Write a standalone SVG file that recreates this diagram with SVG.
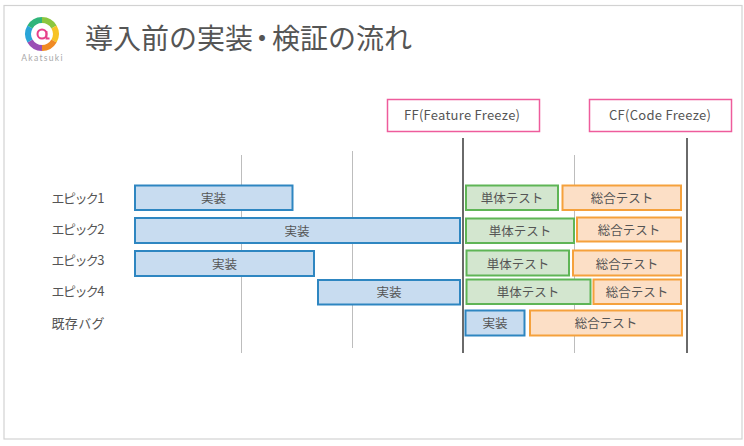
<svg xmlns="http://www.w3.org/2000/svg" width="744" height="446" viewBox="0 0 744 446">
<style>
text{font-family:"Noto Sans CJK JP","Liberation Sans",sans-serif;fill:#555;text-anchor:middle}
.b rect{stroke-width:2}
.impl rect{fill:#c8dcf0;stroke:#2e86c1}
.unit rect{fill:#d3e6cf;stroke:#5fb556}
.sys rect{fill:#fcdfc6;stroke:#f5a13c}
.b text{font-size:12.500px}
.ms text{font-size:13px}
.lab{font-size:13px;text-anchor:start}
.ms rect{fill:#fff;stroke:#ee5c9c;stroke-width:1.500}
.thin{stroke:#bdbdbd;stroke-width:1;fill:none}
.dark{stroke:#6a6a6a;stroke-width:2;fill:none}
</style>
<rect x="4" y="5.500" width="738" height="433.500" fill="#fff" stroke="#d2d2d2" stroke-width="1.200"/>
<g id="logo">
<path d="M42 20A14 14 0 0 1 54 27" fill="none" stroke="#8cc63f" stroke-width="6"/>
<path d="M54 27A14 14 0 0 1 54 41" fill="none" stroke="#f7c325" stroke-width="6"/>
<path d="M54 41A14 14 0 0 1 42 48" fill="none" stroke="#f08a24" stroke-width="6"/>
<path d="M42 48A14 14 0 0 1 30 41" fill="none" stroke="#9b4fb5" stroke-width="6"/>
<path d="M30 41A14 14 0 0 1 30 27" fill="none" stroke="#2aa5d8" stroke-width="6"/>
<path d="M30 27A14 14 0 0 1 42 20" fill="none" stroke="#2fb57a" stroke-width="6"/>
<circle cx="42" cy="34" r="4.500" fill="none" stroke="#e6408a" stroke-width="2"/>
<path d="M46.500 31V38.500H49.500" fill="none" stroke="#e6408a" stroke-width="1.800"/>
<text x="42.500" y="60.500" style="font-family:'Lato','Liberation Sans',sans-serif;font-size:8.500px;letter-spacing:1.300px;fill:#a8a8a8">Akatsuki</text>
</g>
<text id="title" x="85" y="49" dx="0 0 0 0 0 0 -5 -4" style="font-size:28px;text-anchor:start">導入前の実装・検証の流れ</text>
<g id="connectors">
<path class="thin" d="M241.500 155V353M352.500 151V348M574.500 155V353"/>
<path class="dark" d="M463 138V353M687 138V353"/>
</g>
<g id="ff" class="ms"><rect x="387.500" y="99.500" width="152" height="32"/><text x="462" y="119.500" textLength="116">FF(Feature Freeze)</text></g>
<g id="cf" class="ms"><rect x="589.500" y="99.500" width="142" height="32"/><text x="660" y="119.500" textLength="102">CF(Code Freeze)</text></g>
<g id="labels">
<text class="lab" x="51.500" y="203" textLength="53">エピック1</text>
<text class="lab" x="51.500" y="234" textLength="53">エピック2</text>
<text class="lab" x="51.500" y="265" textLength="53">エピック3</text>
<text class="lab" x="51.500" y="296" textLength="53">エピック4</text>
<text class="lab" x="51.500" y="328" textLength="53">既存バグ</text>
</g>
<g id="e1" class="b">
<g class="impl"><rect x="135" y="185.500" width="157.500" height="24.500"/><text x="213.500" y="203">実装</text></g>
<g class="unit"><rect x="466" y="185.500" width="92" height="24.500"/><text x="512" y="203">単体テスト</text></g>
<g class="sys"><rect x="562.500" y="185.500" width="118.500" height="24.500"/><text x="622" y="203">総合テスト</text></g>
</g>
<g id="e2" class="b">
<g class="impl"><rect x="135" y="218" width="325" height="25"/><text x="297" y="236">実装</text></g>
<g class="unit"><rect x="466" y="218.500" width="108" height="24.500"/><text x="520" y="236">単体テスト</text></g>
<g class="sys"><rect x="577" y="217.500" width="104" height="24"/><text x="629" y="235">総合テスト</text></g>
</g>
<g id="e3" class="b">
<g class="impl"><rect x="135" y="251" width="179" height="25"/><text x="224.500" y="269">実装</text></g>
<g class="unit"><rect x="466.500" y="250.500" width="102.500" height="25"/><text x="518" y="268.500">単体テスト</text></g>
<g class="sys"><rect x="573" y="250.500" width="108" height="25"/><text x="627" y="268.500">総合テスト</text></g>
</g>
<g id="e4" class="b">
<g class="impl"><rect x="318" y="280" width="142" height="24.500"/><text x="389" y="297">実装</text></g>
<g class="unit"><rect x="466.500" y="279.500" width="124" height="24.500"/><text x="528" y="297">単体テスト</text></g>
<g class="sys"><rect x="593.500" y="279.500" width="87.500" height="24.500"/><text x="637" y="297">総合テスト</text></g>
</g>
<g id="bug" class="b">
<g class="impl"><rect x="465.500" y="310.500" width="59" height="25"/><text x="495" y="328">実装</text></g>
<g class="sys"><rect x="530" y="310.500" width="152" height="25"/><text x="606" y="328">総合テスト</text></g>
</g>
</svg>
